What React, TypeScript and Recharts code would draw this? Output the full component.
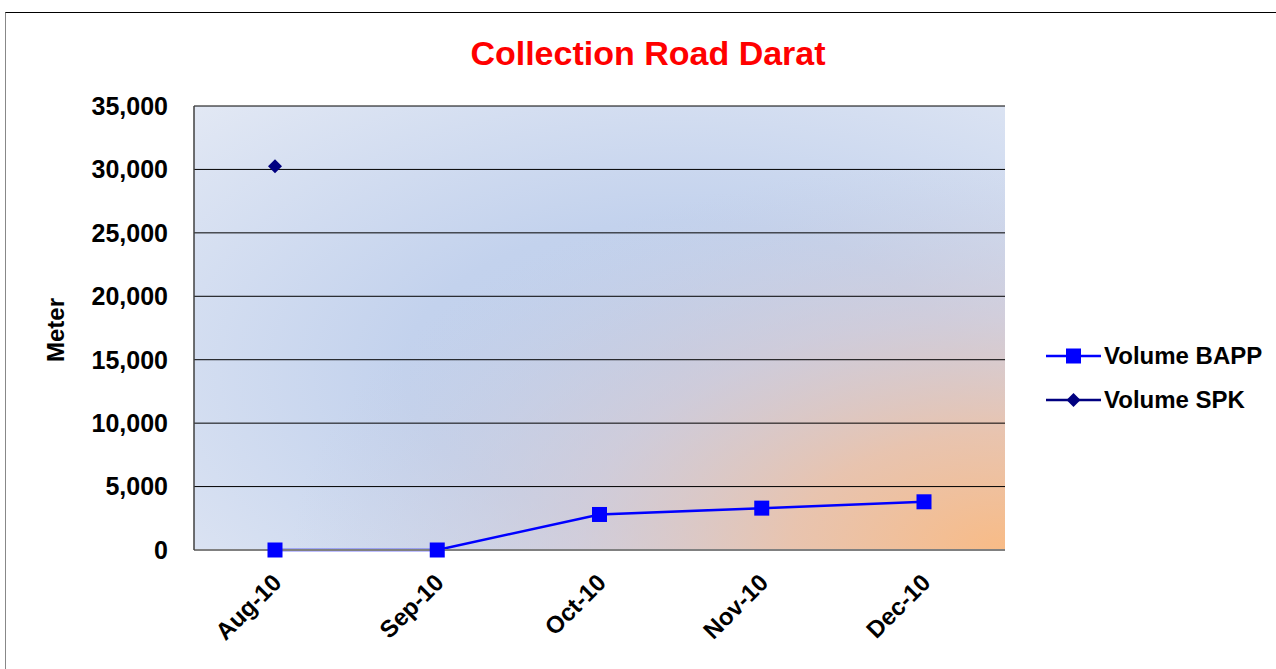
import React from 'react';
import { LineChart, Line, XAxis, YAxis, CartesianGrid } from 'recharts';

const months = ['Aug-10', 'Sep-10', 'Oct-10', 'Nov-10', 'Dec-10'];
const volumeBAPP = [0, 0, 2800, 3300, 3800];
const volumeSPK: (number | null)[] = [30250, null, null, null, null];
const yTicks = [0, 5000, 10000, 15000, 20000, 25000, 30000, 35000];

const data = months.map((m, i) => ({ month: m, bapp: volumeBAPP[i], spk: volumeSPK[i] }));

const FONT = '"Liberation Sans", Arial, sans-serif';

const SquareDot = (props: any) => {
  const { cx, cy, index } = props;
  if (cx == null || cy == null) return <g key={`s${index}`} />;
  return <rect key={`s${index}`} x={cx - 7.5} y={cy - 7.5} width={15} height={15} fill="#0000FF" />;
};

const DiamondDot = (props: any) => {
  const { cx, cy, index, value } = props;
  if (cx == null || cy == null || value == null) return <g key={`d${index}`} />;
  return <path key={`d${index}`} d={`M${cx},${cy - 7} L${cx + 7},${cy} L${cx},${cy + 7} L${cx - 7},${cy} Z`} fill="#000080" />;
};

const XTick = (props: any) => {
  const { x, y, payload } = props;
  const tx = x + 8;
  const ty = y + 26;
  return (
    <text x={tx} y={ty} transform={`rotate(-45, ${tx}, ${ty})`} textAnchor="end" fontFamily={FONT} fontWeight="bold" fontSize={24} fill="#000">
      {payload.value}
    </text>
  );
};

const LegendBox = () => (
  <svg width={240} height={90}>
    <g>
      <line x1={2} y1={19} x2={57} y2={19} stroke="#0000FF" strokeWidth={2.5} />
      <rect x={22} y={11.5} width={15} height={15} fill="#0000FF" />
      <text x={60} y={27} fontFamily={FONT} fontWeight="bold" fontSize={24} fill="#000">Volume BAPP</text>
    </g>
    <g>
      <line x1={2} y1={63} x2={57} y2={63} stroke="#000080" strokeWidth={2.5} />
      <path d="M29.5,56 L36.5,63 L29.5,70 L22.5,63 Z" fill="#000080" />
      <text x={60} y={71} fontFamily={FONT} fontWeight="bold" fontSize={24} fill="#000">Volume SPK</text>
    </g>
  </svg>
);

export default function App() {
  return (
    <div style={{ position: 'absolute', left: 0, top: 0, width: 1276, height: 669, background: '#fff', overflow: 'hidden' }}>
      <div style={{ position: 'absolute', left: 5, top: 12, width: 1400, height: 800, borderTop: '1px solid #000', borderLeft: '1px solid #888' }} />
      <div style={{ position: 'absolute', left: 0, top: 32, width: 1296, textAlign: 'center', fontFamily: FONT, fontWeight: 'bold', fontSize: 34, lineHeight: '42px', color: '#FF0000' }}>
        Collection Road Darat
      </div>
      <div style={{ position: 'absolute', left: 56, top: 330, transform: 'translate(-50%, -50%) rotate(-90deg)', fontFamily: FONT, fontWeight: 'bold', fontSize: 24, color: '#000', whiteSpace: 'nowrap' }}>
        Meter
      </div>
      <div style={{ position: 'absolute', left: 0, top: 0 }}>
        <LineChart width={1276} height={669} data={data} margin={{ top: 106, right: 271, bottom: 0, left: 0 }}>
          <defs>
            <radialGradient id="baseBg" cx="0.6" cy="0.6" r="0.85" gradientUnits="objectBoundingBox">
              <stop offset="0" stopColor="#bfcfec" />
              <stop offset="0.4" stopColor="#c3d2ed" />
              <stop offset="1" stopColor="#e2e8f4" />
            </radialGradient>
            <radialGradient id="orangeBg" cx="1" cy="1" r="0.88" gradientUnits="objectBoundingBox">
              <stop offset="0" stopColor="#f8bb86" stopOpacity={1} />
              <stop offset="0.3" stopColor="#ecc2a8" stopOpacity={0.9} />
              <stop offset="0.6" stopColor="#d8c9cf" stopOpacity={0.6} />
              <stop offset="1" stopColor="#c8cde0" stopOpacity={0} />
            </radialGradient>
            <pattern id="plotBg" patternUnits="objectBoundingBox" patternContentUnits="objectBoundingBox" width="1" height="1">
              <rect x="0" y="0" width="1" height="1" fill="url(#baseBg)" />
              <rect x="0" y="0" width="1" height="1" fill="url(#orangeBg)" />
            </pattern>
          </defs>
          <CartesianGrid vertical={false} stroke="#000" strokeWidth={1} fill="url(#plotBg)" fillOpacity={1} />
          <XAxis dataKey="month" height={119} padding={{ left: 81, right: 81 }} tickLine={false} axisLine={{ stroke: '#808080', strokeWidth: 2 }} tick={<XTick />} interval={0} />
          <XAxis xAxisId="top" dataKey="month" orientation="top" height={0} tick={false} tickLine={false} axisLine={{ stroke: '#808080', strokeWidth: 2 }} />
          <YAxis width={194} domain={[0, 35000]} ticks={yTicks} tickLine={false} tickMargin={20} axisLine={{ stroke: '#404040', strokeWidth: 1.5 }} tick={{ fontFamily: FONT, fontWeight: 'bold', fontSize: 25, fill: '#000' }} tickFormatter={(v: number) => v.toLocaleString('en-US')} interval={0} />
          <YAxis yAxisId="right" orientation="right" width={0} domain={[0, 35000]} tick={false} tickLine={false} axisLine={{ stroke: '#808080', strokeWidth: 2.5 }} />
          <Line dataKey="bapp" name="Volume BAPP" stroke="#0000FF" strokeWidth={2.5} dot={SquareDot} activeDot={false} isAnimationActive={false} />
          <Line dataKey="spk" name="Volume SPK" stroke="#000080" strokeWidth={2.5} dot={DiamondDot} activeDot={false} isAnimationActive={false} connectNulls={false} />
        </LineChart>
      </div>
      <div style={{ position: 'absolute', left: 1044, top: 337 }}>
        <LegendBox />
      </div>
    </div>
  );
}
